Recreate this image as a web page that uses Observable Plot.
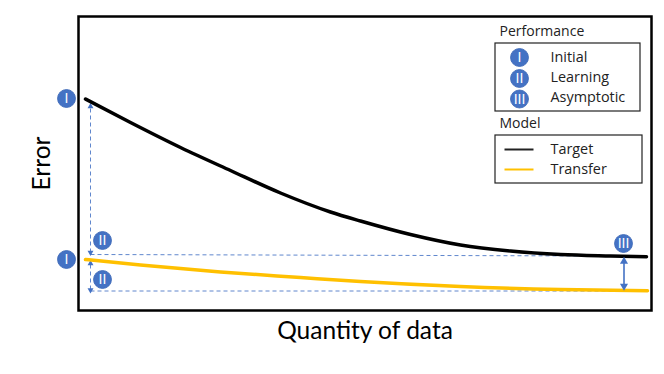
<!DOCTYPE html>
<html><head><meta charset="utf-8">
<script src="https://cdn.jsdelivr.net/npm/d3@7"></script>
<script src="https://cdn.jsdelivr.net/npm/@observablehq/plot@0.6"></script>
<style>html,body{margin:0;padding:0;background:#fff}svg{display:block}</style>
</head><body><div id="c"></div>
<script>
// Data units: quantity 0..573, error 0..294
const targetQuantity = [7, 52, 102, 152, 202, 252, 282, 332, 382, 432, 482, 532, 568];
const targetError = [211.5, 188, 163, 140, 117.5, 98.5, 89.5, 76, 65.5, 59.5, 56, 54.5, 53.7];
const transferQuantity = [7, 62, 142, 222, 282, 382, 482, 569];
const transferError = [51, 45.5, 38.5, 33, 29, 24, 21, 19.7];
const target = targetQuantity.map((q, i) => ({q, e: targetError[i]}));
const transfer = transferQuantity.map((q, i) => ({q, e: transferError[i]}));

const blue = "#4472C4", black = "#000", gold = "#FFC000";
const uiFont = "'Open Sans'", titleFont = "Lato";

const guides = [
  {x1: 12, y1: 56, x2: 530, y2: 54.5},
  {x1: 12, y1: 19.5, x2: 540, y2: 19.5},
  {x1: 12, y1: 58, x2: 12, y2: 204},
  {x1: 12, y1: 21, x2: 12, y2: 47}
];
const heads = [
  {x: 12, y: 204, r: 0}, {x: 12, y: 58, r: 180},
  {x: 12, y: 47, r: 0}, {x: 12, y: 20.5, r: 180}
];
const gapArrow = [{x: 545.5, y1: 25, y2: 48}];
const gapHeads = [{x: 545.5, y: 49, r: 0}, {x: 545.5, y: 24.5, r: 180}];
const badges = [
  {x: -12, y: 212, t: "I"}, {x: -12, y: 51, t: "I"},
  {x: 24, y: 70, t: "II"}, {x: 24, y: 31, t: "II"},
  {x: 545, y: 67, t: "III"},
  {x: 441, y: 253, t: "I"}, {x: 441, y: 232, t: "II"}, {x: 441, y: 211.5, t: "III"}
];
const boxes = [
  {x1: 417, x2: 562, y1: 199, y2: 267},
  {x1: 417, x2: 564, y1: 127, y2: 175}
];
const headings = [{x: 421, y: 279, t: "Performance"}, {x: 421, y: 187, t: "Model"}];
const labels = [
  {x: 472, y: 253, t: "Initial"}, {x: 472, y: 233, t: "Learning"}, {x: 472, y: 213, t: "Asymptotic"},
  {x: 472, y: 161, t: "Target"}, {x: 472, y: 141, t: "Transfer"}
];
const keys = [
  {x1: 426, x2: 455, y: 161, c: "#222"},
  {x1: 426, x2: 455, y: 141, c: gold}
];

const plot = Plot.plot({
  width: 664, height: 374,
  marginLeft: 78, marginRight: 13, marginTop: 16, marginBottom: 64,
  x: {domain: [0, 573], axis: null},
  y: {domain: [0, 294], axis: null},
  marks: [
    Plot.frame({stroke: black, strokeWidth: 2.5}),
    Plot.link(guides, {x1: "x1", y1: "y1", x2: "x2", y2: "y2", stroke: blue, strokeWidth: 1, strokeDasharray: "4 3", strokeOpacity: 0.85}),
    Plot.dot(heads, {x: "x", y: "y", symbol: "triangle", r: 2.2, fill: blue, stroke: "none", rotate: "r"}),
    Plot.line(target, {x: "q", y: "e", stroke: black, strokeWidth: 3.5, curve: "monotone-x"}),
    Plot.line(transfer, {x: "q", y: "e", stroke: gold, strokeWidth: 3.5, curve: "monotone-x"}),
    Plot.ruleX(gapArrow, {x: "x", y1: "y1", y2: "y2", stroke: blue, strokeWidth: 1.6}),
    Plot.dot(gapHeads, {x: "x", y: "y", symbol: "triangle", r: 3, fill: blue, stroke: "none", rotate: "r"}),
    Plot.rect(boxes, {x1: "x1", x2: "x2", y1: "y1", y2: "y2", fill: "white", stroke: "#222", strokeWidth: 1.2}),
    Plot.link(keys, {x1: "x1", x2: "x2", y1: "y", y2: "y", stroke: "c", strokeWidth: 2}),
    Plot.dot(badges, {x: "x", y: "y", r: 9, fill: blue, stroke: "#3a66b5", strokeWidth: 0.8}),
    Plot.text(badges, {x: "x", y: "y", text: "t", fill: "white", fontSize: 14, fontFamily: "'Liberation Sans'", dy: 0.5}),
    Plot.text(headings, {x: "x", y: "y", text: "t", textAnchor: "start", fontSize: 14, fontFamily: uiFont, fill: "#222"}),
    Plot.text(labels, {x: "x", y: "y", text: "t", textAnchor: "start", fontSize: 14.4, fontFamily: uiFont, fill: "#222"}),
    Plot.text(["Quantity of data"], {x: 286.5, y: -21, text: d => d, fontSize: 24.5, fontFamily: titleFont, fill: black}),
    Plot.text(["Error"], {x: -36.5, y: 147, text: d => d, rotate: -90, fontSize: 24.5, fontFamily: titleFont, fill: black})
  ]
});
document.getElementById("c").append(plot);
</script></body></html>
